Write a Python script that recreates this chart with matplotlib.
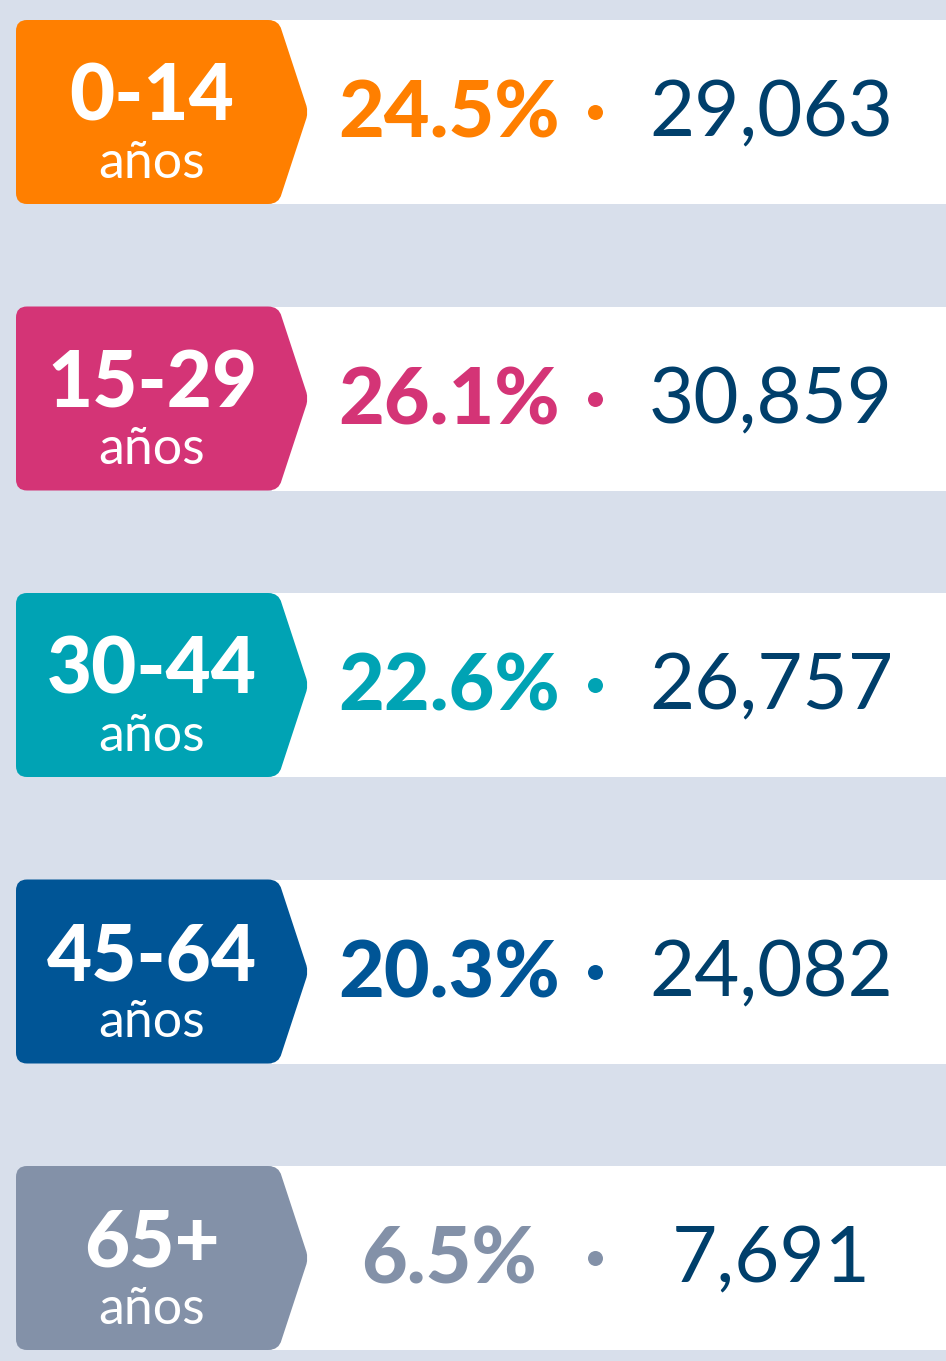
import matplotlib
matplotlib.use("Agg")
import matplotlib.pyplot as plt
from matplotlib.patches import Rectangle, PathPatch
from matplotlib.path import Path

age_groups = ["0-14", "15-29", "30-44", "45-64", "65+"]
unit_label = "años"
percentages = [24.5, 26.1, 22.6, 20.3, 6.5]
counts = [29063, 30859, 26757, 24082, 7691]
colors = ["#ff7f00", "#d43476", "#00a3b4", "#005596", "#8391a8"]

BG = "#d8dfeb"
NUM_COLOR = "#003f6b"

W, H = 946, 1361
fig = plt.figure(figsize=(W / 100, H / 100), dpi=100)
fig.patch.set_facecolor(BG)
ax = fig.add_axes([0, 0, 1, 1])
ax.set_xlim(0, W)
ax.set_ylim(H, 0)
ax.axis("off")
ax.set_facecolor(BG)

row_top0 = 20
row_step = 286.5
row_h = 184


def tag_path(x0, y0, x1, y1, tipx, r=11, rt=6):
    ym = (y0 + y1) / 2
    verts = [
        (x0 + r, y0),
        (x1 - r, y0), (x1, y0), (x1 + 2.5, y0 + r * 0.9),
        (tipx - 1.5, ym - rt), (tipx, ym), (tipx - 1.5, ym + rt),
        (x1 + 2.5, y1 - r * 0.9), (x1, y1), (x1 - r, y1),
        (x0 + r, y1), (x0, y1), (x0, y1 - r),
        (x0, y0 + r), (x0, y0), (x0 + r, y0),
        (x0 + r, y0),
    ]
    codes = [
        Path.MOVETO,
        Path.LINETO, Path.CURVE3, Path.CURVE3,
        Path.LINETO, Path.CURVE3, Path.CURVE3,
        Path.LINETO, Path.CURVE3, Path.CURVE3,
        Path.LINETO, Path.CURVE3, Path.CURVE3,
        Path.LINETO, Path.CURVE3, Path.CURVE3,
        Path.CLOSEPOLY,
    ]
    return Path(verts, codes)


px2pt = 72 / 100

for i, (age, pct, cnt, col) in enumerate(zip(age_groups, percentages, counts, colors)):
    top = row_top0 + i * row_step
    bot = top + row_h
    ym = (top + bot) / 2
    ax.add_patch(Rectangle((272, top), W - 272, row_h, facecolor="white", edgecolor="none"))
    ax.add_patch(PathPatch(tag_path(16, top, 279, bot, 308), facecolor=col, edgecolor="none"))
    ax.text(152, top + 78, age, ha="center", va="center", color="white",
            fontsize=78 * px2pt, fontweight="black", family="Lato")
    ax.text(152, top + 143, unit_label, ha="center", va="center", color="white",
            fontsize=52 * px2pt, family="Lato")
    ax.text(449, ym + 3, f"{pct:.1f}%", ha="center", va="center", color=col,
            fontsize=79 * px2pt, fontweight="black", family="Lato")
    ax.plot([595], [ym], marker="o", markersize=15 * px2pt, color=col, markeredgewidth=0)
    ax.text(771, ym + 3, f"{cnt:,}", ha="center", va="center", color=NUM_COLOR,
            fontsize=78 * px2pt, family="Lato")

fig.savefig("out.png", dpi=100, facecolor=BG)
